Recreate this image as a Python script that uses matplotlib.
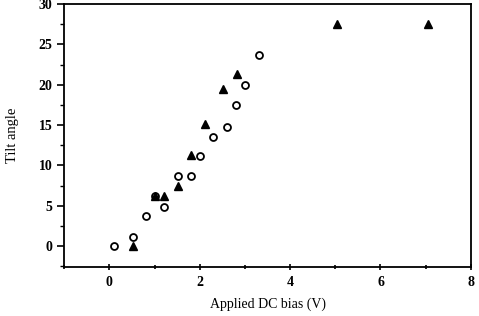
import matplotlib
matplotlib.use('Agg')
import matplotlib.pyplot as plt
from matplotlib.ticker import MultipleLocator

plt.rcParams['font.family'] = ['Liberation Serif', 'DejaVu Serif']
plt.rcParams['font.weight'] = 'bold'

# open circles
circ_x = [0.1, 0.52, 0.81, 1.0, 1.21, 1.52, 1.81, 2.0, 2.3, 2.6, 2.81, 3.01, 3.32]
circ_y = [0.0, 1.15, 3.7, 6.2, 4.9, 8.7, 8.7, 11.2, 13.5, 14.8, 17.5, 20.0, 23.7]

# filled triangles
tri_x = [0.52, 1.0, 1.2, 1.52, 1.81, 2.12, 2.52, 2.82, 5.04, 7.05]
tri_y = [0.0, 6.2, 6.2, 7.4, 11.3, 15.1, 19.5, 21.3, 27.5, 27.5]

fig = plt.figure(figsize=(4.79, 3.16), dpi=100)
ax = fig.add_axes([0.134, 0.155, 0.849, 0.832])

ax.plot(circ_x, circ_y, 'o', ms=5, mfc='white', mec='black', mew=1.3, ls='none')
ax.plot(tri_x, tri_y, '^', ms=6, color='black', ls='none')

ax.set_xlim(-1, 8)
ax.set_ylim(-2.6, 30)
ax.xaxis.set_major_locator(MultipleLocator(2))
ax.xaxis.set_minor_locator(MultipleLocator(1))
ax.yaxis.set_major_locator(MultipleLocator(5))
ax.yaxis.set_minor_locator(MultipleLocator(2.5))
ax.tick_params(axis='x', which='both', direction='inout', length=5, width=1.2, labelsize=10, pad=4)
ax.tick_params(axis='x', which='minor', length=3)
ax.tick_params(axis='y', which='major', direction='out', length=5, width=1.2, labelsize=10)
ax.tick_params(axis='y', which='minor', direction='out', length=3, width=1)
ax.tick_params(top=False, right=False)
for s in ax.spines.values():
    s.set_linewidth(1.3)

ax.set_xlabel('Applied DC bias (V)', fontsize=10, labelpad=6)
ax.set_ylabel('Tilt angle', fontsize=10.5, labelpad=14)

fig.savefig('out.png', dpi=100)
